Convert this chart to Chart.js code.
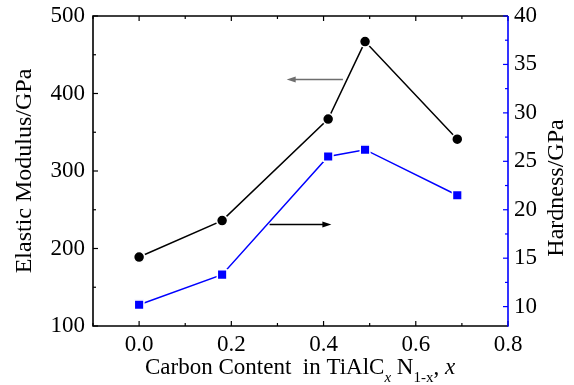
<!DOCTYPE html>
<html>
<head>
<meta charset="utf-8">
<script src="https://cdn.jsdelivr.net/npm/chart.js@4.4.0/dist/chart.umd.min.js"></script>
<style>
  html, body { margin: 0; padding: 0; background: #fff; }
  #wrap { width: 574px; height: 385px; }
</style>
</head>
<body>
<div id="wrap"><canvas id="c"></canvas></div>
<script>
// carbon content x
const carbonX = [0.0, 0.18, 0.41, 0.49, 0.69];
// elastic modulus, GPa (left axis)
const modulus = [189, 236, 367, 467, 341];
// hardness, GPa (right axis)
const hardness = [10.2, 13.3, 25.5, 26.2, 21.5];

const xTicks = [0.0, 0.2, 0.4, 0.6, 0.8];
const leftTicks = [100, 200, 300, 400, 500];
const rightTicks = [10, 15, 20, 25, 30, 35, 40];

// arrows pointing at the axis each curve belongs to (data units, left axis)
const arrowToLeft = { x0: 0.442, x1: 0.320, y: 418, color: '#6e6e6e' };
const arrowToRight = { x0: 0.283, x1: 0.417, y: 231, color: '#000' };

const FONT = "'Liberation Serif', 'Times New Roman', serif";
const BLUE = '#0000ff';

Chart.defaults.font.family = FONT;
Chart.defaults.color = '#000';

function drawTicks(ctx, scale, vals, len, side, area) {
  vals.forEach(v => {
    if (v < scale.min - 1e-9 || v > scale.max + 1e-9) return;
    const p = scale.getPixelForValue(v);
    ctx.beginPath();
    if (side === 'bottom') { ctx.moveTo(p, area.bottom); ctx.lineTo(p, area.bottom - len); }
    if (side === 'top') { ctx.moveTo(p, area.top); ctx.lineTo(p, area.top + len); }
    if (side === 'left') { ctx.moveTo(area.left, p); ctx.lineTo(area.left + len, p); }
    if (side === 'right') { ctx.moveTo(area.right, p); ctx.lineTo(area.right - len, p); }
    ctx.stroke();
  });
}

function minors(major) {
  const step = major[1] - major[0];
  return major.map(v => v - step / 2).concat([major[major.length - 1] + step / 2]);
}

function arrow(ctx, sx, sy, a) {
  const x0 = sx.getPixelForValue(a.x0), x1 = sx.getPixelForValue(a.x1), y = sy.getPixelForValue(a.y);
  const dir = Math.sign(x1 - x0);
  ctx.strokeStyle = a.color; ctx.fillStyle = a.color; ctx.lineWidth = 1.5;
  ctx.beginPath(); ctx.moveTo(x0, y); ctx.lineTo(x1 - dir * 6, y); ctx.stroke();
  ctx.beginPath();
  ctx.moveTo(x1, y); ctx.lineTo(x1 - dir * 9, y - 3); ctx.lineTo(x1 - dir * 9, y + 3);
  ctx.closePath(); ctx.fill();
}

// keep the plot box where the reference has it (no label overhang padding)
function noPad(s) {
  s.paddingTop = 0; s.paddingBottom = 0; s.paddingLeft = 0; s.paddingRight = 0;
}

const decor = {
  id: 'decor',
  afterDraw(chart) {
    const ctx = chart.ctx, a = chart.chartArea;
    const sx = chart.scales.x, yl = chart.scales.yL, yr = chart.scales.yR;
    ctx.save();
    ctx.lineWidth = 1.6;
    ctx.strokeStyle = '#000';
    ctx.beginPath();
    ctx.moveTo(a.right, a.top); ctx.lineTo(a.left, a.top); ctx.lineTo(a.left, a.bottom); ctx.lineTo(a.right, a.bottom);
    ctx.stroke();
    ctx.lineWidth = 1.2;
    drawTicks(ctx, sx, xTicks, 5, 'bottom', a);
    drawTicks(ctx, sx, minors(xTicks), 3, 'bottom', a);
    drawTicks(ctx, sx, xTicks, 5, 'top', a);
    drawTicks(ctx, sx, minors(xTicks), 3, 'top', a);
    drawTicks(ctx, yl, leftTicks, 5, 'left', a);
    drawTicks(ctx, yl, minors(leftTicks), 3, 'left', a);
    ctx.strokeStyle = BLUE;
    ctx.lineWidth = 1.6;
    ctx.beginPath(); ctx.moveTo(a.right, a.top); ctx.lineTo(a.right, a.bottom + 0.8); ctx.stroke();
    ctx.lineWidth = 1.2;
    drawTicks(ctx, yr, rightTicks, 5, 'right', a);
    drawTicks(ctx, yr, minors(rightTicks), 3, 'right', a);

    arrow(ctx, sx, yl, arrowToLeft);
    arrow(ctx, sx, yl, arrowToRight);

    // x axis title with subscripts
    ctx.fillStyle = '#000';
    ctx.textBaseline = 'alphabetic';
    ctx.textAlign = 'left';
    const base = 374;
    let x = 145;
    const put = (t, size, italic, dy) => {
      ctx.font = (italic ? 'italic ' : '') + size + 'px ' + FONT;
      ctx.fillText(t, x, base + dy);
      x += ctx.measureText(t).width;
    };
    put('Carbon Content  in TiAlC', 23, false, 0);
    put('x', 15, true, 8);
    put(' N', 23, false, 0);
    put('1-x', 15, false, 8);
    put(', ', 23, false, 0);
    put('x', 23, true, 0);

    // right title, reading bottom to top like the left one
    ctx.save();
    ctx.translate(557, 188);
    ctx.rotate(-Math.PI / 2);
    ctx.textAlign = 'center';
    ctx.textBaseline = 'middle';
    ctx.font = '24px ' + FONT;
    ctx.fillText('Hardness/GPa', 0, 0);
    ctx.restore();
    ctx.restore();
  }
};

new Chart(document.getElementById('c'), {
  type: 'line',
  data: {
    datasets: [{
      label: 'Elastic Modulus',
      data: carbonX.map((x, i) => ({ x: x, y: modulus[i] })),
      yAxisID: 'yL',
      borderColor: '#000',
      borderWidth: 1.5,
      pointStyle: 'circle',
      pointRadius: 5.5,
      pointBackgroundColor: '#000',
      pointBorderColor: '#fff',
      pointBorderWidth: 1.5,
      tension: 0
    }, {
      label: 'Hardness',
      data: carbonX.map((x, i) => ({ x: x, y: hardness[i] })),
      yAxisID: 'yR',
      borderColor: BLUE,
      borderWidth: 1.5,
      pointStyle: 'rect',
      pointRadius: 6.8,
      pointBackgroundColor: BLUE,
      pointBorderColor: '#fff',
      pointBorderWidth: 1.5,
      tension: 0
    }]
  },
  options: {
    responsive: true,
    maintainAspectRatio: false,
    animation: false,
    events: [],
    layout: { padding: { top: 16, left: 0, right: 0, bottom: 0 } },
    plugins: { legend: { display: false }, tooltip: { enabled: false } },
    scales: {
      x: {
        type: 'linear',
        min: -0.1, max: 0.8,
        afterBuildTicks: s => { s.ticks = xTicks.map(v => ({ value: v })); },
        afterFit: s => { s.height = 59; noPad(s); },
        grid: { display: false, drawTicks: false },
        border: { display: false },
        ticks: { color: '#000', padding: 5, maxRotation: 0, font: { family: FONT, size: 23 },
                 callback: v => v.toFixed(1) }
      },
      yL: {
        position: 'left',
        min: 100, max: 500,
        afterBuildTicks: s => { s.ticks = leftTicks.map(v => ({ value: v })); },
        afterFit: s => { s.width = 93; noPad(s); },
        grid: { display: false, drawTicks: false },
        border: { display: false },
        ticks: { color: '#000', padding: 8, font: { family: FONT, size: 23 } },
        title: { display: true, text: 'Elastic Modulus/GPa', color: '#000',
                 font: { family: FONT, size: 24 }, padding: { top: 10, bottom: 0 } }
      },
      yR: {
        position: 'right',
        min: 8, max: 40,
        afterBuildTicks: s => { s.ticks = rightTicks.map(v => ({ value: v })); },
        afterFit: s => { s.width = 66; noPad(s); },
        grid: { display: false, drawTicks: false },
        border: { display: false },
        ticks: { color: '#000', padding: 6, font: { family: FONT, size: 23 } }
      }
    }
  },
  plugins: [decor]
});
</script>
</body>
</html>
